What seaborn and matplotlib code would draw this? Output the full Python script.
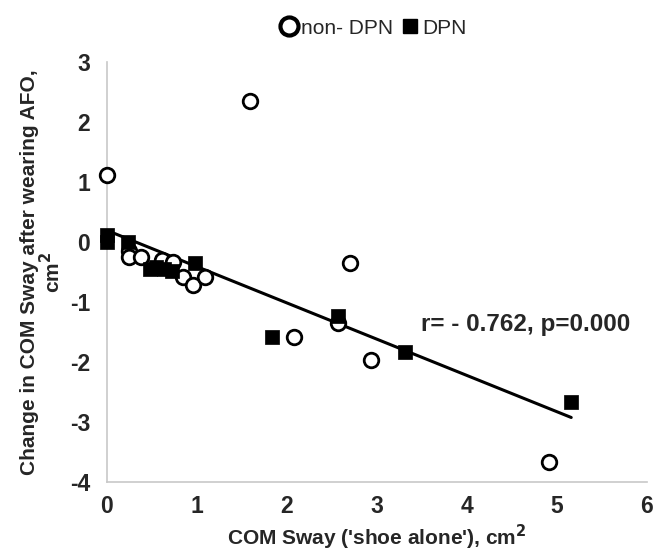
import numpy as np
import pandas as pd
import matplotlib
matplotlib.use('Agg')
import matplotlib.pyplot as plt
import seaborn as sns
from matplotlib.lines import Line2D

# non-DPN (open circles)
non_dpn_x = [0.0, 0.25, 0.25, 0.38, 0.61, 0.73, 0.84, 0.96, 1.09, 1.59, 2.08, 2.57, 2.70, 2.93, 4.91]
non_dpn_y = [1.12, -0.15, -0.25, -0.25, -0.30, -0.33, -0.58, -0.72, -0.58, 2.35, -1.58, -1.35, -0.35, -1.97, -3.67]

# DPN (filled squares)
dpn_x = [0.0, 0.0, 0.23, 0.48, 0.55, 0.63, 0.72, 0.98, 1.83, 2.57, 3.31, 5.16]
dpn_y = [0.12, 0.0, 0.0, -0.45, -0.42, -0.45, -0.48, -0.35, -1.58, -1.23, -1.83, -2.67]

df = pd.DataFrame({
    'x': non_dpn_x + dpn_x,
    'y': non_dpn_y + dpn_y,
    'group': ['non- DPN'] * len(non_dpn_x) + ['DPN'] * len(dpn_x),
})

sns.set_style('white')
plt.rcParams['font.family'] = ['Liberation Sans', 'DejaVu Sans']
plt.rcParams['font.weight'] = 'bold'
plt.rcParams['axes.unicode_minus'] = False

fig = plt.figure(figsize=(6.54, 5.59), dpi=100)
ax = fig.add_axes([0.1636, 0.1377, 0.8254, 0.7513])

# regression line over all points
sns.regplot(data=df, x='x', y='y', scatter=False, ci=None, truncate=True,
            color='black', line_kws={'linewidth': 2.2}, ax=ax)

sns.scatterplot(data=df[df.group == 'non- DPN'], x='x', y='y', marker='o', s=110,
                facecolor='white', edgecolor='black', linewidth=2, ax=ax, zorder=3,
                clip_on=False)
sns.scatterplot(data=df[df.group == 'DPN'], x='x', y='y', marker='s', s=95,
                color='black', edgecolor='black', linewidth=0.5, ax=ax, zorder=4,
                clip_on=False)

ax.set_xlim(0, 6)
ax.set_ylim(-4, 3)
ax.set_xticks(range(0, 7))
ax.set_yticks(range(-4, 4))
ax.tick_params(axis='both', labelsize=16.5, length=0)
ax.tick_params(axis='y', pad=12)
ax.tick_params(axis='x', pad=9)
for lab in ax.get_xticklabels() + ax.get_yticklabels():
    lab.set_fontweight('bold')

sns.despine(ax=ax)
for side in ['left', 'bottom']:
    ax.spines[side].set_color('#c8c8c8')
    ax.spines[side].set_linewidth(1.2)

ax.set_xlabel("COM Sway ('shoe alone'), cm$^\\mathbf{2}$", fontsize=15, fontweight='bold', labelpad=4)
ax.set_ylabel("Change in COM Sway after wearing AFO,\ncm$^\\mathbf{2}$", fontsize=15,
              fontweight='bold', labelpad=4, linespacing=1.0)

ax.text(3.49, -1.38, 'r= - 0.762, p=0.000', fontsize=17.5, fontweight='bold', va='center')

handles = [
    Line2D([], [], marker='o', linestyle='', markersize=13, markerfacecolor='white',
           markeredgecolor='black', markeredgewidth=3),
    Line2D([], [], marker='s', linestyle='', markersize=10, color='black'),
]
fig.legend(handles, ['non- DPN', 'DPN'], loc='upper center', bbox_to_anchor=(0.57, 1.0),
           ncol=2, frameon=False, handletextpad=0.1, columnspacing=0.3,
           handlelength=1.0, prop={'weight': 'normal', 'size': 15})

fig.savefig('out.png', dpi=100)
